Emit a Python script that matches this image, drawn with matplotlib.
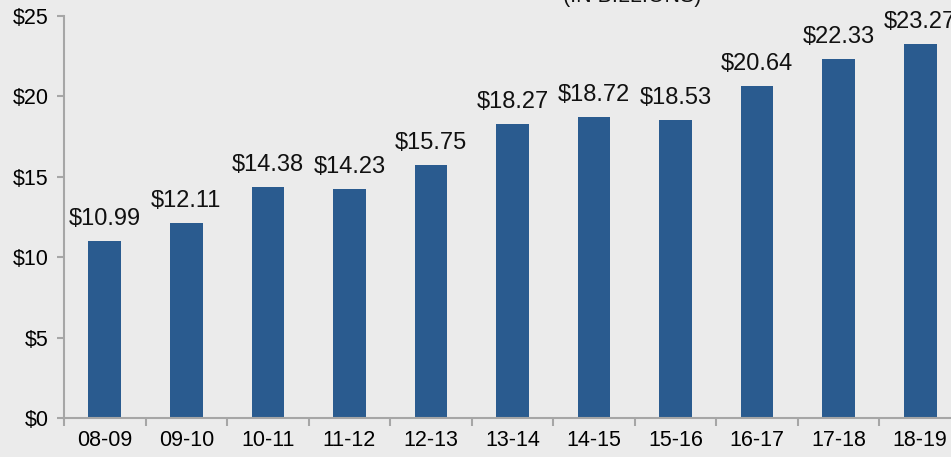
import matplotlib.pyplot as plt

# ---- DATA ----
years = ["08-09", "09-10", "10-11", "11-12", "12-13", "13-14",
         "14-15", "15-16", "16-17", "17-18", "18-19"]
values = [10.99, 12.11, 14.38, 14.23, 15.75, 18.27,
          18.72, 18.53, 20.64, 22.33, 23.27]
y_ticks = [0, 5, 10, 15, 20, 25]

# ---- STYLE ----
bg = "#ebebeb"
bar_color = "#2a5b8f"
spine_color = "#a6a6a6"
plt.rcParams.update({
    "font.family": ["Liberation Sans", "DejaVu Sans"],
    "text.color": "#111111",
})

fig = plt.figure(figsize=(9.51, 4.57), dpi=100, facecolor=bg)
ax = fig.add_axes([64 / 951, 1 - 418 / 457, 897 / 951, 402 / 457])
ax.set_facecolor(bg)

x = range(len(years))
bars = ax.bar(x, values, width=0.4, color=bar_color, zorder=2)

for b, v in zip(bars, values):
    ax.annotate(f"${v:.2f}", (b.get_x() + b.get_width() / 2, v),
                xytext=(0, 8), textcoords="offset points",
                ha="center", va="bottom", fontsize=17, clip_on=False)

ax.set_xlim(-0.5, len(years) - 0.5)
ax.set_ylim(0, 25)
ax.set_yticks(y_ticks)
ax.set_yticklabels([f"${t}" for t in y_ticks], fontsize=15.5)

# category ticks sit between bars
ax.set_xticks([i + 0.5 for i in range(-1, len(years))])
ax.set_xticklabels([])
ax.set_xticks(list(x), minor=True)
ax.set_xticklabels(years, minor=True, fontsize=15.5)
ax.tick_params(axis="x", which="major", length=6, width=1.5, color=spine_color, direction="out")
ax.tick_params(axis="x", which="minor", length=0, pad=9)
ax.tick_params(axis="y", length=5, width=1.5, color=spine_color, pad=6)

for s in ["top", "right"]:
    ax.spines[s].set_visible(False)
for s in ["left", "bottom"]:
    ax.spines[s].set_color(spine_color)
    ax.spines[s].set_linewidth(1.5)

fig.text(632 / 951, 1 - 7 / 457, "(IN BILLIONS)", ha="center", va="bottom", fontsize=15.5)

fig.savefig("out.png", dpi=100, facecolor=bg)
